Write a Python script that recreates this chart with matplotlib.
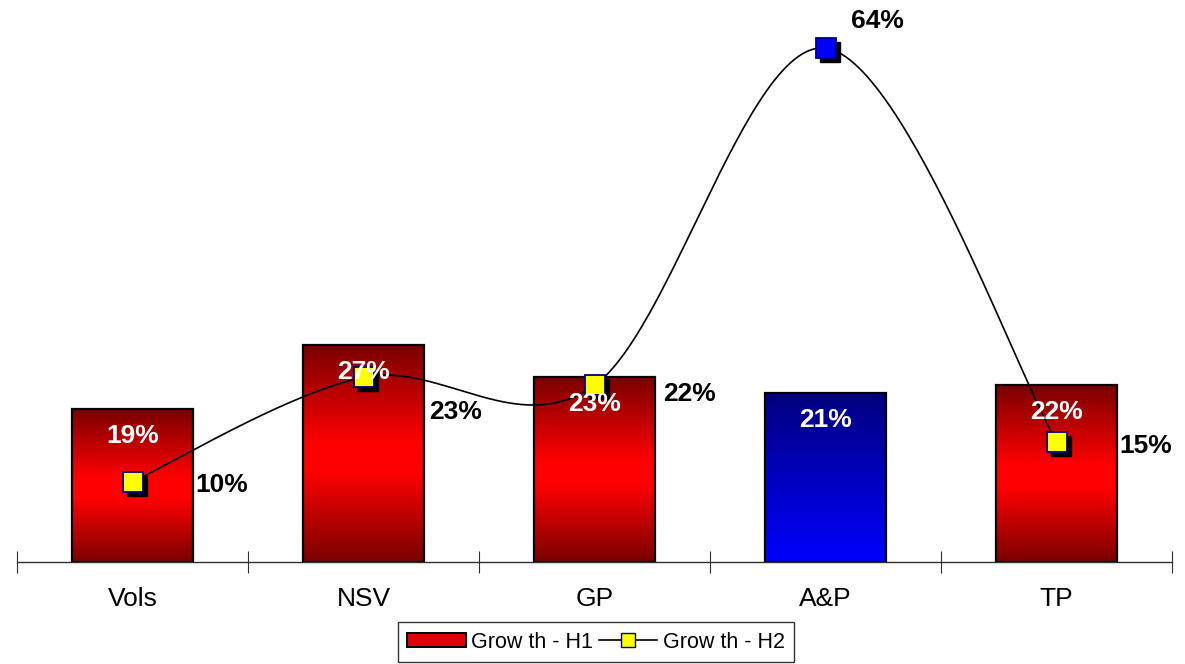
import numpy as np
import matplotlib
matplotlib.use("Agg")
import matplotlib.pyplot as plt
from matplotlib.colors import LinearSegmentedColormap
from matplotlib.patches import Rectangle, Patch
from matplotlib.lines import Line2D
import matplotlib.transforms as mtransforms

plt.rcParams['font.family'] = ['Liberation Sans', 'DejaVu Sans']

categories = ['Vols', 'NSV', 'GP', 'A&P', 'TP']
growth_h1 = [19, 27, 23, 21, 22]
growth_h2 = [10, 23, 22, 64, 15]
bar_kind = ['red', 'red', 'red', 'blue', 'red']
marker_kind = ['yellow', 'yellow', 'yellow', 'blue', 'yellow']

# label offsets for the H2 values, in pixels from the marker
h2_offsets = [(89, -3), (92, -35), (95, -9), (52, 27), (89, -4)]

red_cmap = LinearSegmentedColormap.from_list(
    'redbar', [(0.0, '#7a0000'), (0.42, '#ff0000'), (0.55, '#ff0000'), (1.0, '#7a0000')])
blue_cmap = LinearSegmentedColormap.from_list(
    'bluebar', [(0.0, '#0000ff'), (1.0, '#000080')])


def smooth_curve(xs, ys, n=60):
    # bezier smoothing through the points, like a spreadsheet "smoothed line"
    P = np.column_stack([xs, ys]).astype(float)
    P = np.vstack([P[0], P, P[-1]])
    out = []
    for i in range(1, len(P) - 2):
        p0, p1, p2, p3 = P[i - 1], P[i], P[i + 1], P[i + 2]
        c1 = p1 + (p2 - p0) / 6.0
        c2 = p2 - (p3 - p1) / 6.0
        t = np.linspace(0, 1, n)[:, None]
        seg = ((1 - t) ** 3) * p1 + 3 * ((1 - t) ** 2) * t * c1 + 3 * (1 - t) * t ** 2 * c2 + t ** 3 * p2
        out.append(seg)
    out = np.vstack(out)
    return out[:, 0], out[:, 1]


fig = plt.figure(figsize=(11.85, 6.64), dpi=100)
ax = fig.add_axes([17 / 1185, 102 / 664, 1155 / 1185, 562 / 664])
ax.set_xlim(-0.5, 4.5)
ax.set_ylim(0, 70)

x = np.arange(len(categories))
width = 0.52
grad = np.linspace(0, 1, 256).reshape(-1, 1)

for xi, val, kind in zip(x, growth_h1, bar_kind):
    cmap = red_cmap if kind == 'red' else blue_cmap
    x0, x1 = xi - width / 2, xi + width / 2
    ax.imshow(grad, cmap=cmap, origin='lower', aspect='auto',
              extent=(x0, x1, 0, val), zorder=2, interpolation='bilinear')
    ax.add_patch(Rectangle((x0, 0), width, val, fill=False,
                           edgecolor='black', linewidth=1.6, zorder=3))
    ax.annotate(f'{val}%', (xi, val), xytext=(0, -27), textcoords='offset pixels',
                ha='center', va='center', color='white', fontsize=19,
                fontweight='bold', zorder=10)

cx, cy = smooth_curve(x, growth_h2)
ax.plot(cx, cy, color='black', linewidth=1.2, zorder=4)

shadow = mtransforms.offset_copy(ax.transData, fig=fig, x=4, y=-4, units='dots')
fills = {'yellow': '#ffff00', 'blue': '#0000ff'}
for xi, val, kind, (dx, dy) in zip(x, growth_h2, marker_kind, h2_offsets):
    ax.plot(xi, val, 's', markersize=14, color='black', transform=shadow, zorder=5)
    ax.plot(xi, val, 's', markersize=14, markerfacecolor=fills[kind],
            markeredgecolor='#000080', markeredgewidth=1.3, zorder=6)
    ax.annotate(f'{val}%', (xi, val), xytext=(dx, dy), textcoords='offset pixels',
                ha='center', va='center', color='black', fontsize=19,
                fontweight='bold', zorder=10)

for s in ['top', 'right', 'left']:
    ax.spines[s].set_visible(False)
ax.spines['bottom'].set_color('#303030')
ax.spines['bottom'].set_linewidth(1.0)
ax.set_yticks([])
ax.set_xticks(np.arange(-0.5, 5, 1.0))
ax.set_xticklabels([])
ax.tick_params(axis='x', which='major', direction='inout', length=16, color='#303030')
ax.set_xticks(x, labels=categories, minor=True)
ax.tick_params(axis='x', which='minor', length=0, pad=18, labelsize=19)

handles = [
    Patch(facecolor='#e00000', edgecolor='black', linewidth=1.4, label='Grow th - H1'),
    Line2D([0], [0], color='black', linewidth=1.2, marker='s', markersize=10,
           markerfacecolor='#ffff00', markeredgecolor='#000080', label='Grow th - H2'),
]
leg = fig.legend(handles=handles, loc='upper center', bbox_to_anchor=(0.503, 1 - 622 / 664),
                 ncol=2, frameon=True, fancybox=False, fontsize=15.5,
                 handlelength=2.7, handleheight=0.6, columnspacing=0.3,
                 handletextpad=0.25, borderpad=0.45, borderaxespad=0)
leg.get_frame().set_edgecolor('black')
leg.get_frame().set_linewidth(1.0)

fig.savefig('out.png', dpi=100)
